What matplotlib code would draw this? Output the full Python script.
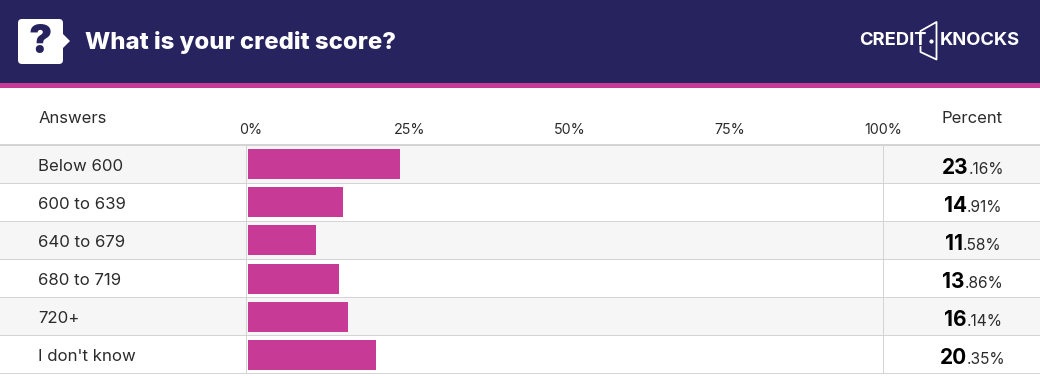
import matplotlib
matplotlib.use('Agg')
import matplotlib.pyplot as plt
from matplotlib.patches import FancyBboxPatch, Polygon

plt.rcParams['font.family'] = ['Inter', 'DejaVu Sans']

title = 'What is your credit score?'
answers = ['Below 600', '600 to 639', '640 to 679', '680 to 719', '720+', "I don't know"]
percent_labels = ['23.16', '14.91', '11.58', '13.86', '16.14', '20.35']
# bar lengths as they read against the 0-100 axis
bar_values = [23.9, 15.0, 10.7, 14.3, 15.7, 20.2]
tick_labels = ['0%', '25%', '50%', '75%', '100%']

NAVY = '#27235f'
PINK = '#c73a96'
GRID = '#d4d4d4'
TEXT = '#2b2b2b'

fig = plt.figure(figsize=(10.4, 3.76), dpi=100)

# whole figure in pixel coordinates for the header and table
bg = fig.add_axes([0, 0, 1, 1])
bg.set_xlim(0, 1040)
bg.set_ylim(376, 0)
bg.axis('off')

bg.axhspan(0, 83, color=NAVY, lw=0)
bg.axhspan(83, 87.5, color=PINK, lw=0)

for i in range(len(answers)):
    top = 145 + i * 38
    if i % 2 == 0:
        bg.axhspan(top, top + 38, color='#f6f6f6', lw=0, zorder=0)
    bg.plot([0, 1040], [top + 37.6, top + 37.6], color=GRID, lw=0.72, zorder=1)
bg.plot([0, 1040], [145, 145], color=GRID, lw=1.44, zorder=1)
bg.plot([246, 246], [145, 373], color=GRID, lw=0.72, zorder=1)
bg.plot([883, 883], [145, 373], color=GRID, lw=0.72, zorder=1)

# question icon
bg.add_patch(FancyBboxPatch((20, 21), 41, 41, boxstyle='round,pad=2,rounding_size=4',
                            fc='white', ec='none'))
bg.add_patch(Polygon([[62, 33], [70, 41], [62, 49]], fc='white', ec='none'))
bg.text(40.5, 42.5, '?', color=NAVY, fontsize=28, fontweight='black', ha='center', va='center')

bg.text(85, 43, title, color='white', fontsize=17.2, fontweight='heavy', va='center')

# logo
bg.text(859, 40.5, 'CREDIT', color='white', fontsize=13.2, fontweight='bold', va='center')
bg.text(940, 40.5, 'KNOCKS', color='white', fontsize=13.2, fontweight='bold', va='center')
bg.plot([920.5, 920.5, 936.5, 936.5, 920.5, 920.5], [36, 31, 22, 59.5, 52, 47], color='white', lw=1.3)
bg.plot([931], [41], marker='o', ms=2, color='white')

bg.text(39, 118.5, 'Answers', color=TEXT, fontsize=12, va='center')
bg.text(972.5, 118.5, 'Percent', color=TEXT, fontsize=12, va='center', ha='center')

for i, answer in enumerate(answers):
    bg.text(38, 166.5 + i * 38, answer, color=TEXT, fontsize=12.1, va='center')

# bars on their own axes, 0 to 100 between the two vertical rules
ax = fig.add_axes([248 / 1040, 1 - 374 / 376, (883 - 248) / 1040, (374 - 145) / 376])
ax.patch.set_alpha(0)
ax.barh(range(len(answers)), bar_values, height=30 / 38, color=PINK)
ax.set_xlim(0, 100)
ax.set_ylim(len(answers) - 0.5, -0.5)
ax.set_yticks([])
ax.set_xticks([0.5, 25.5, 50.7, 75.9, 100])
ax.set_xticklabels(tick_labels, fontsize=10.3, color=TEXT)
ax.xaxis.tick_top()
ax.tick_params(axis='x', length=0, pad=6)
for spine in ax.spines.values():
    spine.set_visible(False)

# percent column: big bold whole part, small decimals, centred together
renderer = fig.canvas.get_renderer()
for i, label in enumerate(percent_labels):
    whole, decimals = label.split('.')
    y = 173.5 + i * 38
    t1 = bg.text(0, y, whole, color='black', fontsize=15, fontweight='bold', va='baseline')
    t2 = bg.text(0, y, '.' + decimals + '%', color=TEXT, fontsize=11.2, va='baseline')
    w1 = t1.get_window_extent(renderer).width
    w2 = t2.get_window_extent(renderer).width
    left = 973 - (w1 + w2) / 2
    t1.set_x(left)
    t2.set_x(left + w1)

fig.savefig('out.png', dpi=100)
